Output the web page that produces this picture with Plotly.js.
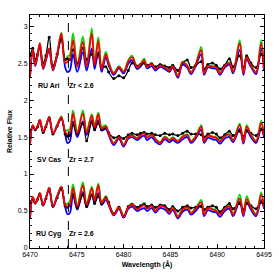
<!DOCTYPE html>
<html><head><meta charset="utf-8">
<script src="https://cdn.plot.ly/plotly-3.0.1.min.js"></script>
<style>html,body{margin:0;padding:0;background:#fff}#c{width:279px;height:279px}</style>
</head><body><div id="c"></div>
<script>
const wave = [6470.0,6470.3,6470.55,6470.8,6471.05,6471.4,6471.7,6472.05,6472.45,6472.9,
6473.35,6473.75,6474.0,6474.25,6474.6,6475.05,6475.65,6476.05,6476.6,6476.9,
6477.3,6477.65,6478.1,6478.4,6478.95,6479.5,6480.0,6480.5,6480.9,6481.45,
6481.8,6482.2,6482.5,6483.0,6483.4,6483.9,6484.4,6484.9,6485.25,6485.8,
6486.3,6486.8,6487.2,6487.7,6488.3,6488.6,6489.0,6489.5,6489.9,6490.3,
6490.8,6491.3,6491.7,6492.4,6492.8,6493.15,6493.6,6494.15,6494.7,6495.0];

// RU Ari (top)
const ariObs = [2.60,2.70,2.55,2.62,2.72,2.50,2.60,2.85,2.46,2.62,2.82,2.55,2.56,2.55,2.68,2.50,2.70,2.55,2.62,2.50,2.62,2.45,2.45,2.38,2.29,2.33,2.30,2.40,2.50,2.46,2.48,2.50,2.47,2.49,2.45,2.48,2.46,2.44,2.47,2.40,2.50,2.54,2.44,2.47,2.52,2.42,2.48,2.50,2.47,2.42,2.47,2.56,2.45,2.60,2.44,2.60,2.50,2.44,2.62,2.45];
const ariRed = [2.31,2.68,2.47,2.60,2.77,2.43,2.55,2.70,2.41,2.62,2.90,2.50,2.52,2.55,2.81,2.45,2.79,2.45,2.90,2.47,2.80,2.42,2.62,2.50,2.36,2.45,2.38,2.52,2.58,2.44,2.48,2.54,2.45,2.49,2.42,2.47,2.44,2.40,2.46,2.32,2.51,2.46,2.37,2.48,2.68,2.36,2.46,2.45,2.44,2.36,2.46,2.50,2.38,2.77,2.36,2.58,2.47,2.37,2.77,2.42];
const ariGreen = [2.31,2.68,2.47,2.60,2.77,2.43,2.55,2.70,2.41,2.62,2.91,2.53,2.59,2.61,2.90,2.48,2.86,2.48,2.97,2.50,2.85,2.45,2.65,2.52,2.37,2.46,2.39,2.54,2.60,2.45,2.49,2.56,2.46,2.50,2.43,2.48,2.45,2.41,2.47,2.33,2.52,2.47,2.38,2.49,2.72,2.37,2.47,2.46,2.45,2.37,2.47,2.51,2.39,2.81,2.37,2.60,2.48,2.38,2.81,2.43];
const ariBlue = [2.31,2.67,2.46,2.59,2.75,2.42,2.54,2.68,2.40,2.60,2.86,2.45,2.38,2.40,2.62,2.38,2.65,2.40,2.70,2.42,2.65,2.38,2.58,2.47,2.34,2.43,2.36,2.49,2.54,2.42,2.45,2.51,2.43,2.46,2.40,2.45,2.42,2.38,2.44,2.30,2.48,2.44,2.35,2.46,2.62,2.34,2.44,2.43,2.42,2.34,2.44,2.48,2.36,2.68,2.34,2.55,2.45,2.35,2.70,2.40];

// SV Cas (middle)
const casObs = [1.58,1.64,1.60,1.64,1.72,1.56,1.64,1.76,1.54,1.65,1.75,1.54,1.51,1.52,1.67,1.54,1.68,1.45,1.70,1.60,1.69,1.60,1.63,1.56,1.49,1.51,1.48,1.53,1.55,1.53,1.55,1.56,1.54,1.55,1.53,1.52,1.55,1.53,1.54,1.52,1.55,1.58,1.54,1.54,1.53,1.50,1.54,1.56,1.54,1.49,1.53,1.58,1.52,1.58,1.51,1.58,1.55,1.52,1.60,1.55];
const casRed = [1.40,1.66,1.60,1.64,1.73,1.57,1.65,1.77,1.55,1.66,1.77,1.57,1.54,1.56,1.82,1.55,1.82,1.56,1.79,1.63,1.81,1.62,1.64,1.55,1.41,1.50,1.39,1.50,1.52,1.48,1.52,1.55,1.49,1.53,1.47,1.42,1.50,1.45,1.49,1.44,1.50,1.53,1.44,1.50,1.64,1.44,1.52,1.50,1.49,1.44,1.51,1.53,1.45,1.66,1.43,1.64,1.53,1.44,1.69,1.52];
const casGreen = [1.40,1.66,1.60,1.64,1.73,1.57,1.65,1.77,1.55,1.66,1.78,1.59,1.59,1.61,1.86,1.57,1.86,1.58,1.81,1.65,1.83,1.64,1.66,1.56,1.42,1.51,1.40,1.51,1.53,1.49,1.53,1.57,1.50,1.54,1.48,1.43,1.51,1.46,1.50,1.45,1.51,1.54,1.45,1.51,1.66,1.45,1.53,1.51,1.50,1.45,1.52,1.54,1.46,1.68,1.44,1.66,1.54,1.45,1.72,1.53];
const casBlue = [1.40,1.65,1.59,1.63,1.72,1.56,1.64,1.76,1.54,1.65,1.75,1.55,1.42,1.44,1.71,1.50,1.71,1.53,1.73,1.60,1.73,1.59,1.61,1.53,1.39,1.48,1.37,1.48,1.50,1.46,1.49,1.52,1.46,1.50,1.44,1.40,1.47,1.43,1.46,1.42,1.47,1.50,1.42,1.48,1.60,1.42,1.49,1.47,1.46,1.41,1.48,1.50,1.43,1.61,1.41,1.60,1.50,1.42,1.62,1.50];

// RU Cyg (bottom)
const cygObs = [0.62,0.66,0.62,0.66,0.73,0.59,0.67,0.80,0.57,0.68,0.80,0.57,0.55,0.57,0.73,0.54,0.72,0.56,0.72,0.60,0.70,0.60,0.68,0.62,0.46,0.55,0.43,0.56,0.59,0.55,0.57,0.59,0.56,0.58,0.55,0.58,0.57,0.52,0.56,0.50,0.55,0.57,0.54,0.55,0.56,0.52,0.55,0.57,0.55,0.49,0.55,0.60,0.53,0.60,0.52,0.60,0.57,0.53,0.62,0.58];
const cygRed = [0.40,0.69,0.60,0.66,0.74,0.58,0.68,0.81,0.56,0.70,0.83,0.58,0.56,0.58,0.81,0.56,0.85,0.58,0.81,0.64,0.85,0.61,0.68,0.60,0.45,0.55,0.42,0.55,0.59,0.52,0.55,0.58,0.53,0.57,0.50,0.57,0.55,0.48,0.55,0.42,0.52,0.55,0.47,0.53,0.62,0.45,0.54,0.52,0.50,0.45,0.53,0.56,0.45,0.67,0.45,0.66,0.55,0.45,0.72,0.55];
const cygGreen = [0.40,0.69,0.60,0.66,0.74,0.58,0.68,0.81,0.56,0.70,0.83,0.60,0.60,0.63,0.86,0.58,0.89,0.60,0.83,0.66,0.87,0.63,0.70,0.61,0.46,0.56,0.43,0.56,0.60,0.53,0.56,0.61,0.54,0.58,0.51,0.58,0.56,0.49,0.56,0.43,0.53,0.56,0.48,0.54,0.65,0.46,0.55,0.53,0.51,0.46,0.54,0.57,0.46,0.72,0.46,0.70,0.56,0.46,0.75,0.56];
const cygBlue = [0.40,0.68,0.60,0.65,0.73,0.57,0.67,0.80,0.55,0.69,0.82,0.56,0.46,0.47,0.72,0.52,0.76,0.55,0.72,0.62,0.74,0.58,0.65,0.58,0.44,0.53,0.41,0.53,0.56,0.50,0.52,0.54,0.50,0.54,0.48,0.54,0.52,0.46,0.52,0.40,0.49,0.52,0.45,0.50,0.58,0.43,0.51,0.49,0.48,0.42,0.50,0.53,0.43,0.63,0.43,0.62,0.52,0.43,0.65,0.53];

const dashX = 6474.1;
const labels = [
  {star:'RU Ari', zr:'Zr < 2.6', y:2.2},
  {star:'SV Cas', zr:'Zr = 2.7', y:1.19},
  {star:'RU Cyg', zr:'Zr = 2.6', y:0.19}
];

const panels = [
  [ariObs, ariRed, ariGreen, ariBlue],
  [casObs, casRed, casGreen, casBlue],
  [cygObs, cygRed, cygGreen, cygBlue]
];

const traces = [];
panels.forEach(p => {
  traces.push({x: wave, y: p[2], mode:'lines', line:{color:'#00e000', width:1.8, shape:'spline', smoothing:1}, hoverinfo:'skip'});
  traces.push({x: wave, y: p[3], mode:'lines', line:{color:'#0000ff', width:1.8, shape:'spline', smoothing:1}, hoverinfo:'skip'});
  traces.push({x: wave, y: p[0], mode:'lines+markers', line:{color:'#000', width:1.3, shape:'spline', smoothing:1}, marker:{color:'#000', size:3}, hoverinfo:'skip'});
  traces.push({x: wave, y: p[1], mode:'lines', line:{color:'#ff0000', width:1.8, shape:'spline', smoothing:1}, hoverinfo:'skip'});
});

const font = {family:'Liberation Sans, Arial, sans-serif', size:7, color:'#000'};
const annotations = [];
labels.forEach(l => {
  annotations.push({x:6472.0, y:l.y, text:'<b>'+l.star+'</b>', showarrow:false, font:font, xref:'x', yref:'y'});
  annotations.push({x:6475.55, y:l.y, text:'<b>'+l.zr+'</b>', showarrow:false, font:font, xref:'x', yref:'y'});
});

const layout = {
  width:279, height:279,
  margin:{l:30, r:15, t:15, b:31},
  paper_bgcolor:'#fff', plot_bgcolor:'#fff',
  showlegend:false,
  font:font,
  xaxis:{range:[6470,6495], showgrid:false, zeroline:false, showline:true, linecolor:'#000', linewidth:1, mirror:'ticks',
    ticks:'inside', ticklen:4, tickcolor:'#000', dtick:5, tick0:6470, tickfont:{family:'Liberation Sans, Arial, sans-serif', size:7, color:'#000'},
    minor:{ticks:'inside', ticklen:2, dtick:1, tickcolor:'#000'},
    title:{text:'<b>Wavelength (Å)</b>', font:{family:'Liberation Sans, Arial, sans-serif', size:7, color:'#000'}, standoff:4}},
  yaxis:{range:[0,3.15], showgrid:false, zeroline:false, showline:true, linecolor:'#000', linewidth:1, mirror:'ticks',
    ticks:'inside', ticklen:4, tickcolor:'#000', dtick:0.5, tick0:0, tickfont:{family:'Liberation Sans, Arial, sans-serif', size:7, color:'#000'},
    minor:{ticks:'inside', ticklen:2, dtick:0.1, tickcolor:'#000'},
    title:{text:'<b>Relative Flux</b>', font:{family:'Liberation Sans, Arial, sans-serif', size:7, color:'#000'}, standoff:4}},
  shapes:[{type:'line', xref:'x', yref:'paper', x0:dashX, x1:dashX, y0:0, y1:1, line:{color:'#000', width:1, dash:'dash'}}],
  annotations:annotations
};

Plotly.newPlot('c', traces, layout, {staticPlot:true, displayModeBar:false});
</script>
</body></html>
